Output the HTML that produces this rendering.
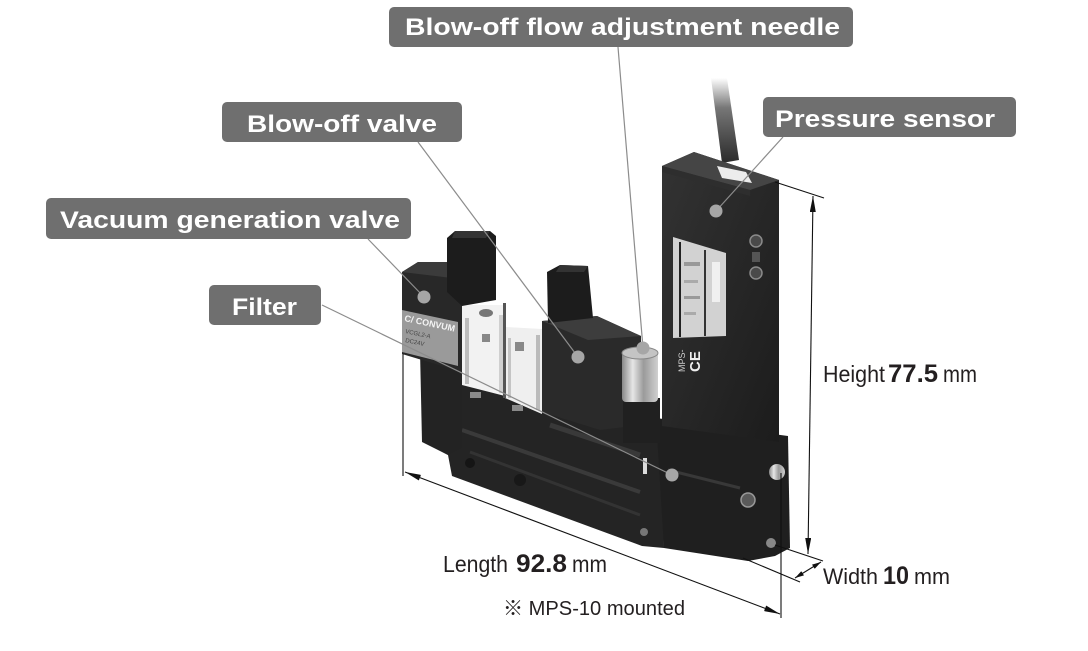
<!DOCTYPE html>
<html>
<head>
<meta charset="utf-8">
<style>
html,body{margin:0;padding:0;background:#fff;}
body{width:1088px;height:651px;overflow:hidden;}
svg{display:block;}
text{font-family:"Liberation Sans","Noto Sans CJK JP",sans-serif;}
</style>
</head>
<body>
<svg width="1088" height="651" viewBox="0 0 1088 651" xmlns="http://www.w3.org/2000/svg">
<defs>
  <linearGradient id="cable" x1="0" y1="0" x2="0" y2="1">
    <stop offset="0" stop-color="#ffffff"/>
    <stop offset="0.35" stop-color="#777"/>
    <stop offset="1" stop-color="#2a2a2a"/>
  </linearGradient>
  <linearGradient id="silver" x1="0" y1="0" x2="1" y2="0">
    <stop offset="0" stop-color="#888"/>
    <stop offset="0.3" stop-color="#e6e6e6"/>
    <stop offset="0.6" stop-color="#9a9a9a"/>
    <stop offset="1" stop-color="#d0d0d0"/>
  </linearGradient>
  <linearGradient id="body" x1="0" y1="0" x2="1" y2="1">
    <stop offset="0" stop-color="#333"/>
    <stop offset="1" stop-color="#1c1c1c"/>
  </linearGradient>
  <marker id="ah" viewBox="0 0 16 6" refX="16" refY="3" markerWidth="16" markerHeight="6" markerUnits="userSpaceOnUse" orient="auto-start-reverse" preserveAspectRatio="none">
    <path d="M0,0 L16,3 L0,6 Z" fill="#111"/>
  </marker>
  <marker id="ahs" viewBox="0 0 9 5" refX="9" refY="2.5" markerWidth="9" markerHeight="5" markerUnits="userSpaceOnUse" orient="auto-start-reverse" preserveAspectRatio="none">
    <path d="M0,0 L9,2.5 L0,5 Z" fill="#111"/>
  </marker>
</defs>

<!-- ===== Product ===== -->
<!-- cable -->
<path d="M711,78 L727,78 L739,160 L722,163 Z" fill="url(#cable)"/>

<!-- base manifold -->
<path d="M422,362 L462,368 L545,405 L640,415 L662,420 L664,548 L642,546 L452,476 L448,455 L424,442 Z" fill="#242424"/>
<path d="M462,430 L640,492" stroke="#3a3a3a" stroke-width="4"/>
<path d="M470,452 L640,515" stroke="#333" stroke-width="3"/>
<path d="M550,425 L640,455" stroke="#393939" stroke-width="5"/>
<circle cx="470" cy="463" r="5" fill="#151515"/>
<circle cx="520" cy="480" r="6" fill="#181818"/>

<!-- sensor base -->
<path d="M656,418 L788,436 L790,548 L775,556 L748,561 L664,548 Z" fill="#1f1f1f"/>
<path d="M668,470 L740,488" stroke="#383838" stroke-width="3"/>

<!-- sensor tall block -->
<path d="M662,166 L694,152 L779,180 L779,442 L662,426 Z" fill="url(#body)"/>
<path d="M662,166 L694,152 L779,180 L750,190 Z" fill="#454545"/>
<path d="M662,166 L750,190 L750,196 L662,172 Z" fill="#2e2e2e"/>
<!-- white connector on top -->
<path d="M717,166 L746,172 L752,183 L722,178 Z" fill="#ececec"/>
<!-- label -->
<path d="M673,237 L726,253 L726,336 L673,338 Z" fill="#d2d2d2"/>
<rect x="679" y="242" width="2" height="95" fill="#222"/>
<rect x="704" y="250" width="2" height="86" fill="#333"/>
<rect x="684" y="262" width="16" height="4" fill="#999"/>
<rect x="684" y="280" width="14" height="3" fill="#aaa"/>
<rect x="684" y="296" width="16" height="3" fill="#999"/>
<rect x="684" y="312" width="12" height="3" fill="#aaa"/>
<rect x="712" y="262" width="8" height="40" fill="#f0f0f0"/>
<text x="0" y="0" font-size="15" font-weight="bold" fill="#eee" transform="translate(700,372) rotate(-90)">CE</text>
<text x="0" y="0" font-size="9" fill="#ccc" transform="translate(685,372) rotate(-90)">MPS-</text>
<!-- screws on sensor -->
<circle cx="756" cy="241" r="6" fill="#4a4a4a" stroke="#8a8a8a" stroke-width="1.5"/>
<circle cx="756" cy="273" r="6" fill="#4a4a4a" stroke="#8a8a8a" stroke-width="1.5"/>
<rect x="752" y="252" width="8" height="10" fill="#555"/>

<!-- blow-off valve -->
<path d="M542,321 L597,316 L641,336 L641,425 L600,430 L542,412 Z" fill="#2a2a2a"/>
<path d="M542,321 L597,316 L641,336 L588,340 Z" fill="#3d3d3d"/>
<path d="M547,272 L560,265 L588,266 L593,318 L548,323 Z" fill="#1c1c1c"/>
<path d="M560,265 L588,266 L584,272 L556,272 Z" fill="#333"/>

<!-- needle knob -->
<rect x="623" y="398" width="37" height="45" fill="#202020"/>
<rect x="622" y="352" width="36" height="50" rx="4" fill="url(#silver)"/>
<ellipse cx="640" cy="353" rx="18" ry="6" fill="#c4c4c4" stroke="#888" stroke-width="1"/>

<!-- white blocks -->
<path d="M462,305 L505,305 L505,396 L462,385 Z" fill="#f2f2f2"/>
<rect x="465" y="318" width="4" height="66" fill="#bdbdbd"/>
<rect x="499" y="315" width="4" height="78" fill="#cfcfcf"/>
<ellipse cx="486" cy="313" rx="7" ry="4" fill="#777"/>
<rect x="482" y="334" width="8" height="8" fill="#888"/>
<path d="M505,327 L542,329 L542,414 L505,398 Z" fill="#efefef"/>
<rect x="508" y="338" width="3" height="60" fill="#c4c4c4"/>
<rect x="536" y="335" width="4" height="75" fill="#bbb"/>
<rect x="515" y="342" width="9" height="9" fill="#888"/>
<rect x="503" y="303" width="3" height="95" fill="#555"/>
<!-- tabs -->
<rect x="470" y="392" width="11" height="6" fill="#8a8a8a"/>
<rect x="512" y="405" width="11" height="6" fill="#8a8a8a"/>

<!-- left coil body -->
<path d="M420,350 L462,368 L462,448 L448,455 L422,442 Z" fill="#232323"/>
<path d="M402,272 L418,262 L462,262 L462,372 L402,354 Z" fill="#282828"/>
<path d="M402,272 L418,262 L462,262 L452,278 Z" fill="#3b3b3b"/>
<path d="M447,238 L455,231 L490,231 L496,236 L496,300 L462,306 L447,292 Z" fill="#1c1c1c"/>
<path d="M455,231 L490,231 L486,238 L452,238 Z" fill="#343434"/>
<!-- coil label -->
<path d="M402,310 L458,322 L458,366 L402,352 Z" fill="#9a9a9a"/>
<text x="0" y="0" font-size="9" font-weight="bold" fill="#f4f4f4" transform="translate(404,321) rotate(12)">C/ CONVUM</text>
<text x="0" y="0" font-size="6" fill="#444" transform="translate(405,333) rotate(12)">VCGL2-A</text>
<text x="0" y="0" font-size="6" fill="#444" transform="translate(405,342) rotate(12)">DC24V</text>

<!-- filter strip & screws -->
<rect x="643" y="458" width="4" height="16" fill="#dcdcdc"/>
<circle cx="777" cy="472" r="8" fill="url(#silver)"/>
<circle cx="748" cy="500" r="7" fill="#5a5a5a" stroke="#999" stroke-width="1.5"/>
<circle cx="771" cy="543" r="5" fill="#888"/>
<circle cx="644" cy="532" r="4" fill="#777"/>

<!-- ===== Dimension lines ===== -->
<g stroke="#111" stroke-width="1.1" fill="none">
  <line x1="775" y1="182" x2="824" y2="198"/>
  <line x1="775" y1="545" x2="823" y2="561"/>
  <line x1="743" y1="558" x2="800" y2="582"/>
  <line x1="403" y1="354" x2="403" y2="476"/>
  <line x1="781" y1="473" x2="781" y2="618"/>
  <line x1="813" y1="196" x2="808" y2="554" marker-start="url(#ah)" marker-end="url(#ah)"/>
  <line x1="405" y1="472" x2="780" y2="614" marker-start="url(#ah)" marker-end="url(#ah)"/>
  <line x1="795" y1="578" x2="821" y2="562" marker-start="url(#ahs)" marker-end="url(#ahs)"/>
</g>

<!-- ===== Leader lines ===== -->
<g stroke="#8c8c8c" stroke-width="1.2">
  <line x1="618" y1="47" x2="643" y2="348"/>
  <line x1="783" y1="137" x2="716" y2="211"/>
  <line x1="418" y1="142" x2="578" y2="357"/>
  <line x1="368" y1="239" x2="424" y2="297"/>
  <line x1="322" y1="305" x2="672" y2="475"/>
</g>
<g fill="#a6a6a6">
  <circle cx="643" cy="348" r="6.5"/>
  <circle cx="716" cy="211" r="6.5"/>
  <circle cx="578" cy="357" r="6.5"/>
  <circle cx="424" cy="297" r="6.5"/>
  <circle cx="672" cy="475" r="6.5"/>
</g>

<!-- ===== Labels ===== -->
<g fill="#6f6f6f">
  <rect x="389" y="7" width="464" height="40" rx="5"/>
  <rect x="763" y="97" width="253" height="40" rx="5"/>
  <rect x="222" y="102" width="240" height="40" rx="5"/>
  <rect x="46" y="198" width="365" height="41" rx="5"/>
  <rect x="209" y="285" width="112" height="40" rx="5"/>
</g>
<g fill="#ffffff" font-size="24" font-weight="bold">
  <text x="405" y="35" textLength="435" lengthAdjust="spacingAndGlyphs">Blow-off flow adjustment needle</text>
  <text x="775" y="127" textLength="220" lengthAdjust="spacingAndGlyphs">Pressure sensor</text>
  <text x="247" y="132" textLength="190" lengthAdjust="spacingAndGlyphs">Blow-off valve</text>
  <text x="60" y="228" textLength="340" lengthAdjust="spacingAndGlyphs">Vacuum generation valve</text>
  <text x="232" y="315" textLength="65" lengthAdjust="spacingAndGlyphs">Filter</text>
</g>

<!-- ===== Dimension texts ===== -->
<g fill="#231f20">
  <text x="823" y="382" font-size="23" textLength="62" lengthAdjust="spacingAndGlyphs">Height</text>
  <text x="888" y="382" font-size="25" font-weight="bold" textLength="50" lengthAdjust="spacingAndGlyphs">77.5</text>
  <text x="943" y="382" font-size="23" textLength="34" lengthAdjust="spacingAndGlyphs">mm</text>

  <text x="443" y="572" font-size="23" textLength="65" lengthAdjust="spacingAndGlyphs">Length</text>
  <text x="516" y="572" font-size="25" font-weight="bold" textLength="51" lengthAdjust="spacingAndGlyphs">92.8</text>
  <text x="572" y="572" font-size="23" textLength="35" lengthAdjust="spacingAndGlyphs">mm</text>

  <text x="823" y="584" font-size="22" textLength="55" lengthAdjust="spacingAndGlyphs">Width</text>
  <text x="883" y="584" font-size="25" font-weight="bold" textLength="26" lengthAdjust="spacingAndGlyphs">10</text>
  <text x="914" y="584" font-size="22" textLength="36" lengthAdjust="spacingAndGlyphs">mm</text>

  <text x="503" y="615" font-size="20" textLength="182" lengthAdjust="spacingAndGlyphs">※ MPS-10 mounted</text>
</g>
</svg>
</body>
</html>
